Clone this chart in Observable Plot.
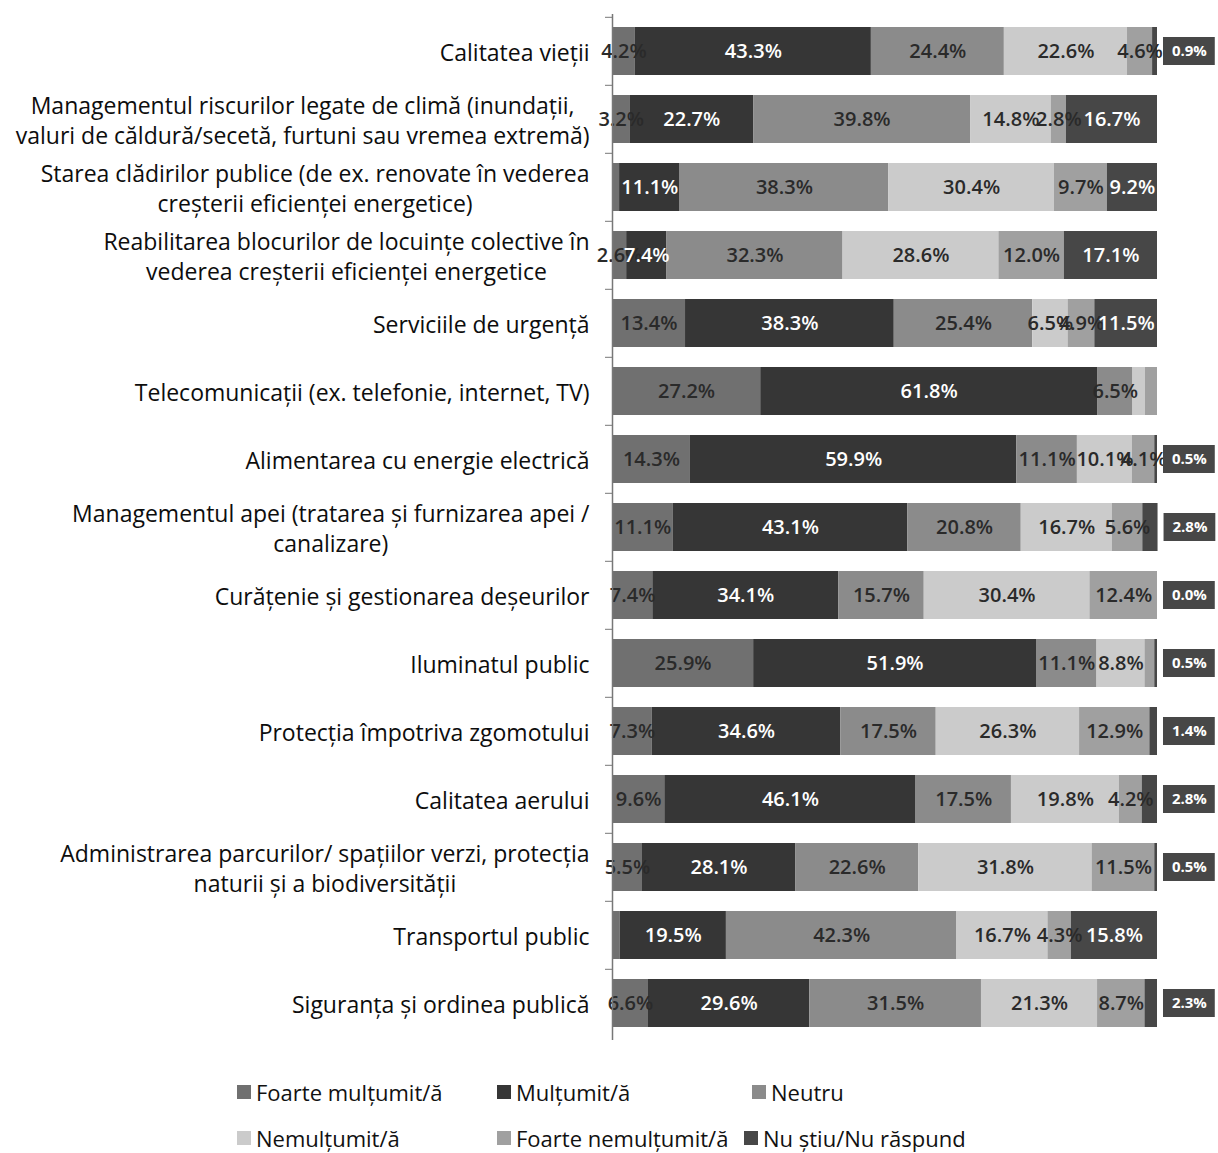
<!DOCTYPE html>
<html>
<head>
<meta charset="utf-8">
<script src="https://cdn.jsdelivr.net/npm/d3@7"></script>
<script src="https://cdn.jsdelivr.net/npm/@observablehq/plot@0.6"></script>
<style>
  body { margin: 0; background: #fff; font-family: "Open Sans", "Noto Sans", sans-serif; }
  #chart { position: relative; width: 1218px; }
  .legend { position: relative; width: 1218px; height: 108px; font-size: 22px; line-height: 26px; color: #111; }
  .item { position: absolute; display: flex; align-items: center; white-space: nowrap; transform: translateY(-50%); }
  .sw { width: 14px; height: 14px; margin-right: 5px; }
</style>
</head>
<body>
<div id="chart"></div>
<script>
// ---- data ----
const categories = [
  "Calitatea vieții",
  "Managementul riscurilor legate de climă (inundații,\nvaluri de căldură/secetă, furtuni sau vremea extremă)",
  "Starea clădirilor publice (de ex. renovate în vederea\ncreșterii eficienței energetice)",
  "Reabilitarea blocurilor de locuințe colective în\nvederea creșterii eficienței energetice",
  "Serviciile de urgență",
  "Telecomunicații (ex. telefonie, internet, TV)",
  "Alimentarea cu energie electrică",
  "Managementul apei (tratarea și furnizarea apei /\ncanalizare)",
  "Curățenie și gestionarea deșeurilor",
  "Iluminatul public",
  "Protecția împotriva zgomotului",
  "Calitatea aerului",
  "Administrarea parcurilor/ spațiilor verzi, protecția\nnaturii și a biodiversității",
  "Transportul public",
  "Siguranța și ordinea publică"
];
const seriesNames = ["Foarte mulțumit/ă", "Mulțumit/ă", "Neutru", "Nemulțumit/ă", "Foarte nemulțumit/ă", "Nu știu/Nu răspund"];
const foarteMultumit   = [4.2, 3.2, 1.3, 2.6, 13.4, 27.2, 14.3, 11.1, 7.4, 25.9, 7.3, 9.6, 5.5, 1.4, 6.6];
const multumit         = [43.3, 22.7, 11.1, 7.4, 38.3, 61.8, 59.9, 43.1, 34.1, 51.9, 34.6, 46.1, 28.1, 19.5, 29.6];
const neutru           = [24.4, 39.8, 38.3, 32.3, 25.4, 6.5, 11.1, 20.8, 15.7, 11.1, 17.5, 17.5, 22.6, 42.3, 31.5];
const nemultumit       = [22.6, 14.8, 30.4, 28.6, 6.5, 2.3, 10.1, 16.7, 30.4, 8.8, 26.3, 19.8, 31.8, 16.7, 21.3];
const foarteNemultumit = [4.6, 2.8, 9.7, 12.0, 4.9, 2.2, 4.1, 5.6, 12.4, 1.8, 12.9, 4.2, 11.5, 4.3, 8.7];
const nuStiu           = [0.9, 16.7, 9.2, 17.1, 11.5, 0.0, 0.5, 2.8, 0.0, 0.5, 1.4, 2.8, 0.5, 15.8, 2.3];
const noOutsideLabel = ["Telecomunicații (ex. telefonie, internet, TV)"];

const colors = ["#707070", "#363636", "#8b8b8b", "#cbcbcb", "#a0a0a0", "#474747"];
const textColors = ["#2a2a2a", "#ffffff", "#2a2a2a", "#2a2a2a", "#2a2a2a", "#ffffff"];

// ---- tidy rows ----
const seriesValues = [foarteMultumit, multumit, neutru, nemultumit, foarteNemultumit, nuStiu];
const rows = [];
categories.forEach((c, i) => {
  let acc = 0;
  seriesValues.forEach((arr, j) => {
    const v = arr[i];
    rows.push({cat: c, series: seriesNames[j], j, value: v, x1: acc, x2: acc + v});
    acc += v;
  });
});
const totals = categories.map((c, i) => seriesValues.reduce((s, a) => s + a[i], 0));
const fmt = v => v.toFixed(1) + "%";

const inside = rows.filter(d => d.value >= 2.5 && !(d.j === 5 && d.value < 5));
const outside = rows.filter(d => d.j === 5 && d.value < 5 && !noOutsideLabel.includes(d.cat))
  .map(d => ({...d, b1: totals[categories.indexOf(d.cat)] + 1.1, b2: totals[categories.indexOf(d.cat)] + 10.6}));

// measure label widths for centered multi-line tick labels
const LABEL_FONT = 23;
const FONT = "'Open Sans'";
const ctx = document.createElement("canvas").getContext("2d");
ctx.font = `${LABEL_FONT}px ${FONT}`;
const widthOf = s => Math.max(...s.split("\n").map(l => ctx.measureText(l).width));

const W = 1218, H = 1045, ML = 612, MR = 61;

const labelMarks = categories.map(c => Plot.text([c], {
  x: 0, y: d => d, text: d => d,
  textAnchor: "middle", lineAnchor: "middle", lineHeight: 1.3,
  dx: -(23 + widthOf(c) / 2),
  fontSize: LABEL_FONT, fill: "#0d0d0d"
}));

const chart = Plot.plot({
  width: W, height: H,
  marginLeft: ML, marginRight: MR, marginTop: 14, marginBottom: 5,
  style: {fontFamily: "'Open Sans', 'Noto Sans', sans-serif", background: "#fff", overflow: "visible"},
  x: {domain: [0, 100], axis: null},
  y: {domain: categories, paddingInner: 0.3, paddingOuter: 0.15, axis: null},
  color: {domain: seriesNames, range: colors},
  marks: [
    Plot.barX(rows, {x1: "x1", x2: "x2", y: "cat", fill: "series"}),
    Plot.text(inside, {
      x: d => (d.x1 + d.x2) / 2, y: "cat", text: d => fmt(d.value),
      fill: d => textColors[d.j], fontSize: 20, fontWeight: 600
    }),
    Plot.barX(outside, {x1: "b1", x2: "b2", y: "cat", fill: colors[5], insetTop: 10, insetBottom: 10}),
    Plot.text(outside, {
      x: d => (d.b1 + d.b2) / 2, y: "cat", text: d => fmt(d.value),
      fill: "#ffffff", fontSize: 15, fontWeight: "bold"
    }),
    Plot.axisY({tickSize: 7, tickPadding: 0, text: null, label: null, dy: -34.2, stroke: "#777"}),
    Plot.ruleX([0], {stroke: "#777", strokeWidth: 1.5}),
    ...labelMarks
  ]
});
document.getElementById("chart").appendChild(chart);

// ---- legend ----
const legend = document.createElement("div");
legend.className = "legend";
const legendPos = [[237, 47], [497, 47], [752, 47], [237, 93], [497, 93], [744, 93]];
seriesNames.forEach((s, j) => {
  const it = document.createElement("div");
  it.className = "item";
  it.style.left = legendPos[j][0] + "px";
  it.style.top = legendPos[j][1] + "px";
  const sw = document.createElement("span");
  sw.className = "sw";
  sw.style.background = colors[j];
  const tx = document.createElement("span");
  tx.textContent = s;
  it.appendChild(sw); it.appendChild(tx);
  legend.appendChild(it);
});
document.getElementById("chart").appendChild(legend);
</script>
</body>
</html>
